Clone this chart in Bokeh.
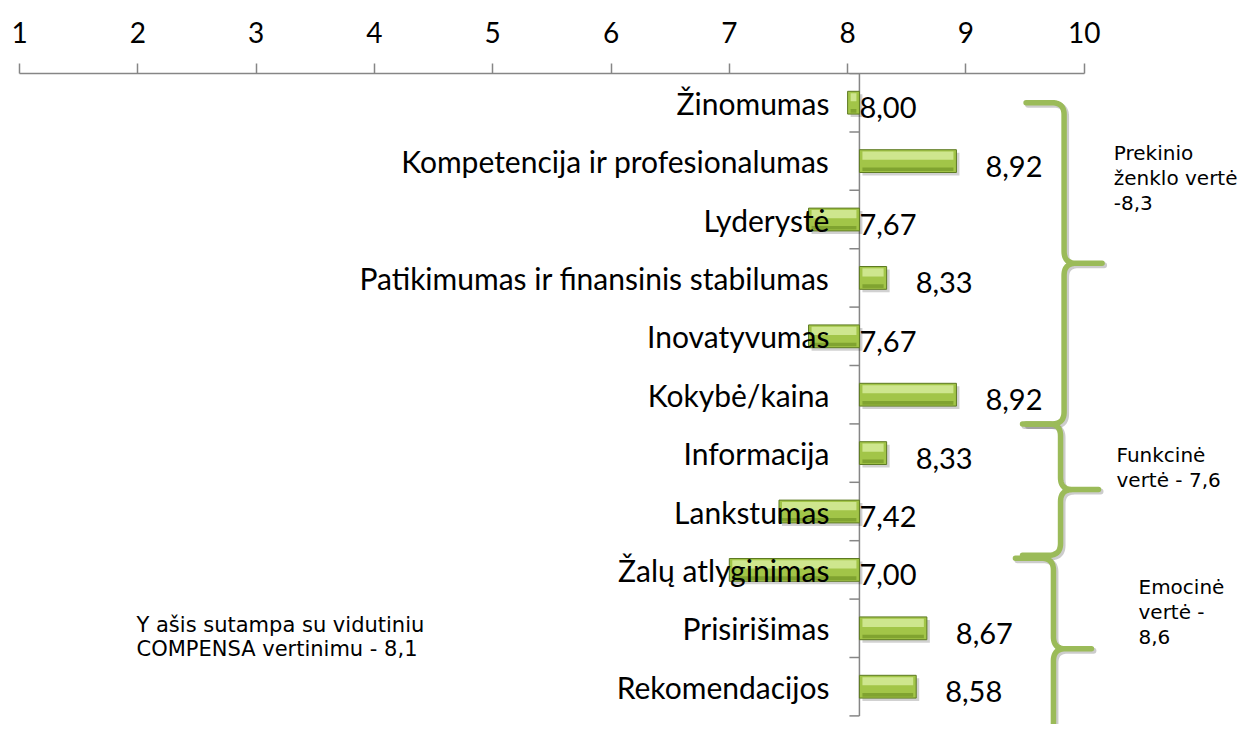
import numpy as np
from bokeh.plotting import figure
from bokeh.models import Range1d, FixedTicker
from bokeh.core.properties import value
from bokeh.embed import file_html
from bokeh.resources import INLINE

# ---------------- data ----------------
categories = [
    "Žinomumas",
    "Kompetencija ir profesionalumas",
    "Lyderystė",
    "Patikimumas ir finansinis stabilumas",
    "Inovatyvumas",
    "Kokybė/kaina",
    "Informacija",
    "Lankstumas",
    "Žalų atlyginimas",
    "Prisirišimas",
    "Rekomendacijos",
]
scores = [8.00, 8.92, 7.67, 8.33, 7.67, 8.92, 8.33, 7.42, 7.00, 8.67, 8.58]
axis_cross = 8.1
x_ticks = [1, 2, 3, 4, 5, 6, 7, 8, 9, 10]

group_lines = [
    ["Prekinio", "ženklo vertė", "-8,3"],
    ["Funkcinė", "vertė - 7,6"],
    ["Emocinė", "vertė -", "8,6"],
]
group_spans = [(0.0, 5.5), (5.5, 7.75), (7.8, 10.9)]
note_lines = ["Y ašis sutampa su vidutiniu", "COMPENSA vertinimu -  8,1"]

# ---------------- layout constants ----------------
W, H = 1243, 724
TOP = 73                 # frame top (canvas px)
PX_X = 118.3             # px per score unit
PX_Y = 58.4              # px per category row
x0 = 1 - 19 / PX_X
x1 = x0 + W / PX_X
y_top = -0.5
y_bot = y_top + (H - TOP) / PX_Y

LABEL_FONT = value("Lato")
NOTE_FONT = value("DejaVu Sans")
GREEN = "#9bbb59"
AXIS_GREY = "#868686"

p = figure(width=W, height=H, x_range=Range1d(x0, x1), y_range=Range1d(y_bot, y_top),
           x_axis_location="above", y_axis_location=None, toolbar_location=None,
           output_backend="svg", title=None,
           min_border_left=0, min_border_right=0, min_border_bottom=0, min_border_top=TOP)
p.outline_line_color = None
p.xgrid.visible = False
p.ygrid.visible = False
p.background_fill_color = "white"
p.border_fill_color = "white"

ax = p.xaxis[0]
ax.ticker = FixedTicker(ticks=x_ticks)
ax.bounds = (1, 10)
ax.axis_line_color = AXIS_GREY
ax.axis_line_width = 1.5
ax.major_tick_line_color = AXIS_GREY
ax.major_tick_line_width = 1.5
ax.major_tick_in = 0
ax.major_tick_out = 10
ax.minor_tick_line_color = None
ax.major_label_text_font = "Lato"
ax.major_label_text_font_size = "28px"
ax.major_label_text_color = "black"
ax.major_label_standoff = 21

n = len(categories)
rows = list(range(n))
lo = [min(axis_cross, s) for s in scores]
hi = [max(axis_cross, s) for s in scores]
bar_h = 0.39

# vertical category axis through axis_cross
p.segment(x0=[axis_cross], y0=[-0.5], x1=[axis_cross], y1=[n - 0.5],
          line_color=AXIS_GREY, line_width=1.5)
bounds_rows = [k - 0.5 for k in range(n + 1)]
p.segment(x0=[axis_cross - 10 / PX_X] * len(bounds_rows), y0=bounds_rows,
          x1=[axis_cross] * len(bounds_rows), y1=bounds_rows,
          line_color=AXIS_GREY, line_width=1.5)

# bars (shadow, base, bevel bands)
sx, sy = 3 / PX_X, 3 / PX_Y
p.hbar(y=[r + sy for r in rows], left=[l + sx for l in lo], right=[h + sx for h in hi],
       height=bar_h, fill_color="black", fill_alpha=0.18, line_color=None)
p.hbar(y=rows, left=lo, right=hi, height=bar_h, fill_color="#a2c548",
       line_color="#5d7a22", line_width=1)
ins = 3 / PX_X
p.hbar(y=[r - bar_h * 0.24 for r in rows], left=[l + ins for l in lo],
       right=[h - ins for h in hi], height=bar_h * 0.36,
       fill_color="#d3e996", fill_alpha=0.9, line_color=None)
p.hbar(y=[r + bar_h * 0.36 for r in rows], left=[l + ins for l in lo],
       right=[h - ins for h in hi], height=bar_h * 0.16,
       fill_color="#7c9e2e", fill_alpha=0.9, line_color=None)

# category labels
p.text(x=[axis_cross] * n, y=rows, text=categories, x_offset=-30, y_offset=0,
       text_align="right", text_baseline="middle", text_font=LABEL_FONT,
       text_font_size="30px", text_color="black")

# value labels
val_text = [f"{s:.2f}".replace(".", ",") for s in scores]
val_x = [s if s > axis_cross else axis_cross for s in scores]
val_off = [29 if s > axis_cross else 0 for s in scores]
p.text(x=val_x, y=rows, text=val_text, x_offset=val_off, y_offset=5,
       text_align="left", text_baseline="middle", text_font=LABEL_FONT,
       text_font_size="29px", text_color="black")


# braces
def qbez(a, c, b, m=14):
    t = np.linspace(0, 1, m)[:, None]
    a, c, b = map(np.array, (a, c, b))
    return (1 - t) ** 2 * a + 2 * (1 - t) * t * c + t ** 2 * b


def brace(r0, r1, xv_unit, arm=38, tip=38, rad=12):
    xv = (xv_unit - 1) * PX_X
    yt, yb = r0 * PX_Y, r1 * PX_Y
    ym = (yt + yb) / 2
    pts = [np.array([[xv - arm, yt]])]
    pts.append(qbez((xv - rad, yt), (xv, yt), (xv, yt + rad)))
    pts.append(qbez((xv, ym - rad), (xv, ym), (xv + rad, ym)))
    pts.append(np.array([[xv + tip, ym]]))
    pts.append(qbez((xv + rad, ym), (xv, ym), (xv, ym + rad)))
    pts.append(qbez((xv, yb - rad), (xv, yb), (xv - rad, yb)))
    pts.append(np.array([[xv - arm, yb]]))
    a = np.vstack(pts)
    return list(a[:, 0] / PX_X + 1), list(a[:, 1] / PX_Y)


brace_x = [9.83, 9.80, 9.74]
bxs, bys, shx, shy = [], [], [], []
for (r0, r1), bx in zip(group_spans, brace_x):
    xs, ys = brace(r0, r1, bx)
    bxs.append(xs)
    bys.append(ys)
    shx.append([v + 2 / PX_X for v in xs])
    shy.append([v + 2 / PX_Y for v in ys])
p.multi_line(xs=shx, ys=shy, line_color="black", line_alpha=0.2, line_width=6,
             line_join="round", line_cap="round")
p.multi_line(xs=bxs, ys=bys, line_color=GREEN, line_width=5.5,
             line_join="round", line_cap="round")

# group annotations
anchors = [(10.25, 0.853), (10.273, 6.024), (10.459, 8.301)]
line_step = 25 / PX_Y
tx, ty, tt = [], [], []
for (ax_, ay_), lines in zip(anchors, group_lines):
    for i, t in enumerate(lines):
        tx.append(ax_)
        ty.append(ay_ + i * line_step)
        tt.append(t)
p.text(x=tx, y=ty, text=tt, text_align="left", text_baseline="alphabetic",
       text_font=NOTE_FONT, text_font_size="20px", text_color="black")

note_step = 24 / PX_Y
p.text(x=[1.989] * len(note_lines), y=[8.952 + i * note_step for i in range(len(note_lines))],
       text=note_lines, text_align="left", text_baseline="alphabetic",
       text_font=NOTE_FONT, text_font_size="21px", text_color="black")

open("out.html", "w").write(file_html(p, INLINE))
